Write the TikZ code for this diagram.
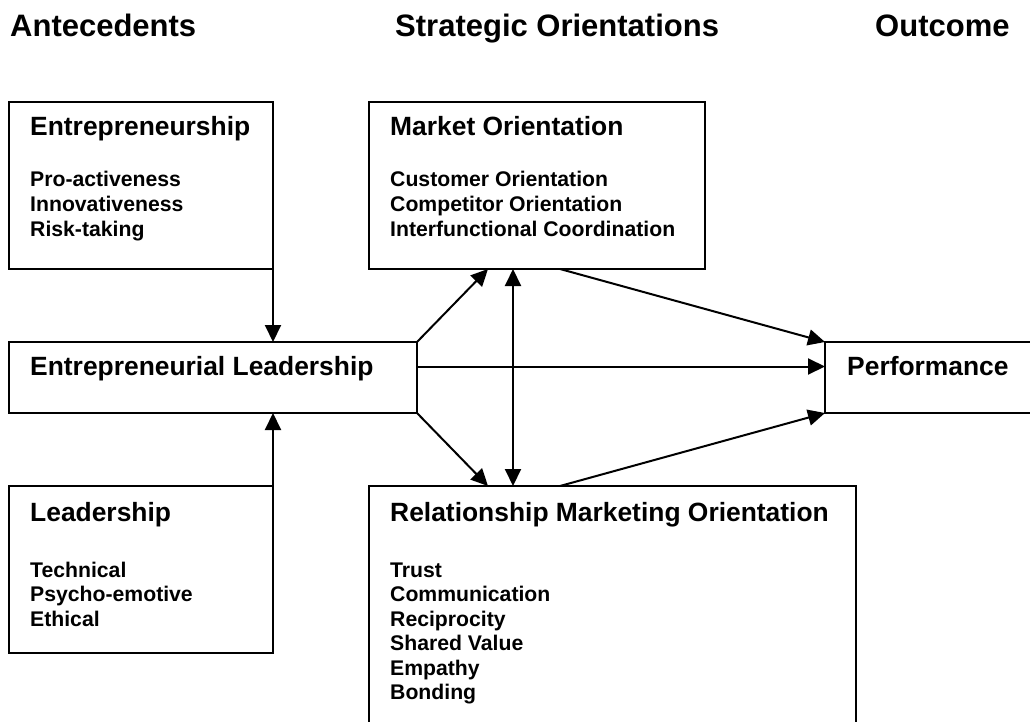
\documentclass[tikz,border=0pt]{standalone}
\usepackage{fontspec}
\setmainfont{Liberation Sans}
\usetikzlibrary{arrows.meta}

\begin{document}
\begin{tikzpicture}[x=1pt, y=-1pt, >={Triangle[length=17pt, width=16pt]}]

	% ---------- Helper styles ----------
	\tikzset{
		box/.style={draw, line width=2pt, anchor=north west, inner sep=0pt, outer sep=0pt},
		ttl/.style={anchor=base west, inner sep=0pt, font=\fontsize{31}{36}\selectfont\bfseries},
		hd/.style={anchor=base west, inner sep=0pt, font=\fontsize{26.4}{30}\selectfont\bfseries},
		itm/.style={anchor=base west, inner sep=0pt, font=\fontsize{21.2}{24}\selectfont\bfseries},
		link/.style={line width=2pt, ->}
	}

	% ---------- Canvas ----------
	\fill[white] (0,0) rectangle (1030,722);
	\useasboundingbox (0,0) rectangle (1030,722);
	\clip (0,0) rectangle (1030,722);

	% ---------- Column titles ----------
	\node[ttl] (t1) at (10,37) {Antecedents};
	\node[ttl] (t2) at (395,37) {Strategic Orientations};
	\node[ttl] (t3) at (875,37) {Outcome};

	% ---------- Antecedents ----------
	\node[box, minimum width=264pt, minimum height=167pt] (ent) at (9,102) {};
	\node[hd] (ent-h) at (30,136) {Entrepreneurship};
	\foreach \i/\txt in {0/Pro-activeness, 1/Innovativeness, 2/Risk-taking} {
		\node[itm] (ent-\i) at (30,187+24.5*\i) {\txt};
	}

	\node[box, minimum width=408pt, minimum height=71pt] (el) at (9,342) {};
	\node[hd] (el-h) at (30,375) {Entrepreneurial Leadership};

	\node[box, minimum width=264pt, minimum height=167pt] (lead) at (9,486) {};
	\node[hd] (lead-h) at (30,521) {Leadership};
	\foreach \i/\txt in {0/Technical, 1/Psycho-emotive, 2/Ethical} {
		\node[itm] (lead-\i) at (30,577+24.5*\i) {\txt};
	}

	% ---------- Strategic orientations ----------
	\node[box, minimum width=336pt, minimum height=167pt] (mo) at (369,102) {};
	\node[hd] (mo-h) at (390,136) {Market Orientation};
	\foreach \i/\txt in {0/Customer Orientation, 1/Competitor Orientation, 2/Interfunctional Coordination} {
		\node[itm] (mo-\i) at (390,187+24.5*\i) {\txt};
	}

	\node[box, minimum width=487pt, minimum height=244pt] (rmo) at (369,486) {};
	\node[hd] (rmo-h) at (390,521) {Relationship Marketing Orientation};
	\foreach \i/\txt in {0/Trust, 1/Communication, 2/Reciprocity, 3/Shared Value, 4/Empathy, 5/Bonding} {
		\node[itm] (rmo-\i) at (390,577+24.5*\i) {\txt};
	}

	% ---------- Outcome ----------
	\node[box, minimum width=215pt, minimum height=71pt] (perf) at (825,342) {};
	\node[hd] (perf-h) at (847,375) {Performance};

	% ---------- Connectors ----------
	\draw[link] (ent.south east) -- (ent.south east |- el.north);
	\draw[link] (lead.north east) -- (lead.north east |- el.south);
	\draw[link] (el.north east) -- ([xshift=119pt]mo.south west);
	\draw[link] (el.south east) -- ([xshift=119pt]rmo.north west);
	\draw[link, <->] ([xshift=144pt]mo.south west) -- ([xshift=144pt]rmo.north west);
	\draw[link] ([yshift=11pt]el.east) -- ([yshift=11pt]el.east -| perf.west);
	\draw[link] ([xshift=191pt]mo.south west) -- (perf.north west);
	\draw[link] ([xshift=191pt]rmo.north west) -- (perf.south west);

\end{tikzpicture}
\end{document}
